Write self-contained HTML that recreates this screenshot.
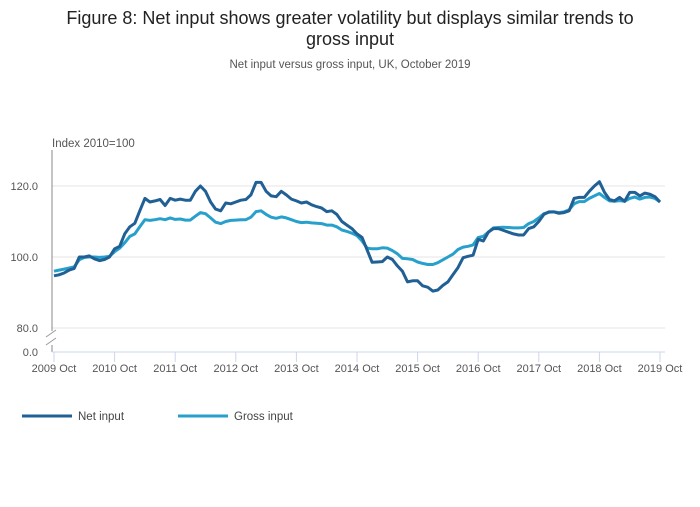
<!DOCTYPE html>
<html><head><meta charset="utf-8"><style>
body{margin:0;background:#fff;font-family:"Liberation Sans",sans-serif;}
</style></head><body>
<svg width="700" height="502" xmlns="http://www.w3.org/2000/svg" font-family="Liberation Sans, sans-serif">
<text x="350" y="24" text-anchor="middle" font-size="18" fill="#222">Figure 8: Net input shows greater volatility but displays similar trends to</text>
<text x="350" y="45" text-anchor="middle" font-size="18" fill="#222">gross input</text>
<text x="350" y="68" text-anchor="middle" font-size="11.5" fill="#555">Net input versus gross input, UK, October 2019</text>
<text x="52" y="147" font-size="11.5" fill="#555">Index 2010=100</text>
<g id="grid"></g>
<line x1="52" y1="150" x2="52" y2="352" stroke="#888" stroke-width="1"/>
<line x1="52" y1="352" x2="665" y2="352" stroke="#ccd6eb" stroke-width="1"/>
<rect x="46" y="331" width="12" height="14" fill="#fff"/>
<line x1="46" y1="337" x2="56" y2="330" stroke="#999"/>
<line x1="46" y1="345" x2="56" y2="338" stroke="#999"/>
<g id="xticks"></g>
<g id="series"></g>
<g>
<line x1="22" y1="416" x2="72" y2="416" stroke="#206095" stroke-width="3"/>
<text x="78" y="420" font-size="11.5" fill="#444">Net input</text>
<line x1="178" y1="416" x2="228" y2="416" stroke="#27a0cc" stroke-width="3"/>
<text x="234" y="420" font-size="11.5" fill="#444">Gross input</text>
</g>
</svg>
<script>
const xLabels=["2009 Oct","2010 Oct","2011 Oct","2012 Oct","2013 Oct","2014 Oct","2015 Oct","2016 Oct","2017 Oct","2018 Oct","2019 Oct"];
const yTicks=[80,100,120];
const netInput=[94.7,95,95.5,96.3,96.8,100,100,100.3,99.5,99,99.3,100,
102.3,103,106.5,108.5,109.5,113,116.5,115.5,115.8,116.2,114.5,116.5,
116,116.3,116,116,118.5,120,118.5,115.5,113.5,113,115.2,115,
115.5,116,116.2,117.5,121,121,118.5,117.2,117,118.5,117.5,116.3,
115.8,115.2,115.5,114.7,114.2,113.8,112.8,113,112,110,109,108,
106.5,105.5,102,98.5,98.6,98.7,100,99.3,97.5,96,93,93.3,
93.3,91.9,91.5,90.4,90.7,92,93,95,97,99.8,100.2,100.5,
105,104.5,107,108,108,107.5,107,106.5,106.2,106.2,108,108.5,
110,112,112.7,112.7,112.3,112.5,113,116.5,116.8,116.8,118.5,120,
121.2,118.2,116.2,115.8,116.8,115.7,118.2,118.2,117.2,118,117.7,117,
115.5];
const grossInput=[96,96.3,96.6,96.9,97.2,99.2,99.9,100,100,99.9,100,100.2,
101.5,102.5,104,105.8,106.5,108.5,110.5,110.3,110.5,110.8,110.5,111,
110.6,110.7,110.4,110.4,111.5,112.5,112.2,111,109.8,109.4,110,110.3,
110.4,110.5,110.5,111.2,112.8,113,112,111.2,110.9,111.3,111,110.5,
110,109.7,109.8,109.6,109.5,109.4,109,109,108.5,107.6,107.2,106.7,
106,104.5,102.5,102.3,102.3,102.6,102.5,101.8,100.9,99.6,99.5,99.3,
98.6,98.2,97.9,97.9,98.4,99.2,100,100.8,102.1,102.8,103,103.4,
105.5,105.8,107,108.2,108.3,108.4,108.3,108.2,108.2,108.3,109.4,110,
111,112.2,112.6,112.7,112.5,112.7,113.3,115,115.6,115.6,116.5,117.2,
117.9,116.8,115.8,115.7,115.9,115.7,116.5,116.9,116.3,116.8,116.9,116.5,
115.5];
const NS="http://www.w3.org/2000/svg";
const x0=54,x1=660,nMonths=120;
function xScale(i){return x0+(x1-x0)*i/nMonths;}
function yScale(v){return 257-(v-100)*3.55;}
const grid=document.getElementById('grid');
yTicks.forEach(v=>{
  const l=document.createElementNS(NS,'line');
  l.setAttribute('x1',52);l.setAttribute('x2',665);
  l.setAttribute('y1',yScale(v));l.setAttribute('y2',yScale(v));
  l.setAttribute('stroke','#e6e6e6');
  
  
  grid.appendChild(l);
  const t=document.createElementNS(NS,'text');
  t.setAttribute('x',38);t.setAttribute('y',yScale(v)+4);
  t.setAttribute('text-anchor','end');t.setAttribute('font-size','11');t.setAttribute('fill','#555');
  t.textContent=v.toFixed(1);
  
  
  grid.appendChild(t);
});
const z=document.createElementNS(NS,'text');
z.setAttribute('x',38);z.setAttribute('y',356);z.setAttribute('text-anchor','end');
z.setAttribute('font-size','11');z.setAttribute('fill','#555');z.textContent='0.0';


grid.appendChild(z);
const xt=document.getElementById('xticks');
xLabels.forEach((s,k)=>{
  const x=xScale(k*12);
  const l=document.createElementNS(NS,'line');
  l.setAttribute('x1',x);l.setAttribute('x2',x);l.setAttribute('y1',352);l.setAttribute('y2',362);
  l.setAttribute('stroke','#ccd6eb');
  
  
  xt.appendChild(l);
  const t=document.createElementNS(NS,'text');
  t.setAttribute('x',x);t.setAttribute('y',372);t.setAttribute('text-anchor','middle');
  t.setAttribute('font-size','11');t.setAttribute('fill','#555');t.textContent=s;
  
  
  xt.appendChild(t);
});
const sg=document.getElementById('series');
function draw(arr,color,name){
  const p=document.createElementNS(NS,'path');
  p.setAttribute('d',arr.map((v,i)=>(i?'L':'M')+xScale(i).toFixed(1)+','+yScale(v).toFixed(1)).join(''));
  p.setAttribute('fill','none');p.setAttribute('stroke',color);p.setAttribute('stroke-width','3');
  p.setAttribute('stroke-linejoin','round');
  
  
  sg.appendChild(p);
}
draw(grossInput,'#27a0cc','gross-input-line');
draw(netInput,'#206095','net-input-line');
</script>
</body></html>
